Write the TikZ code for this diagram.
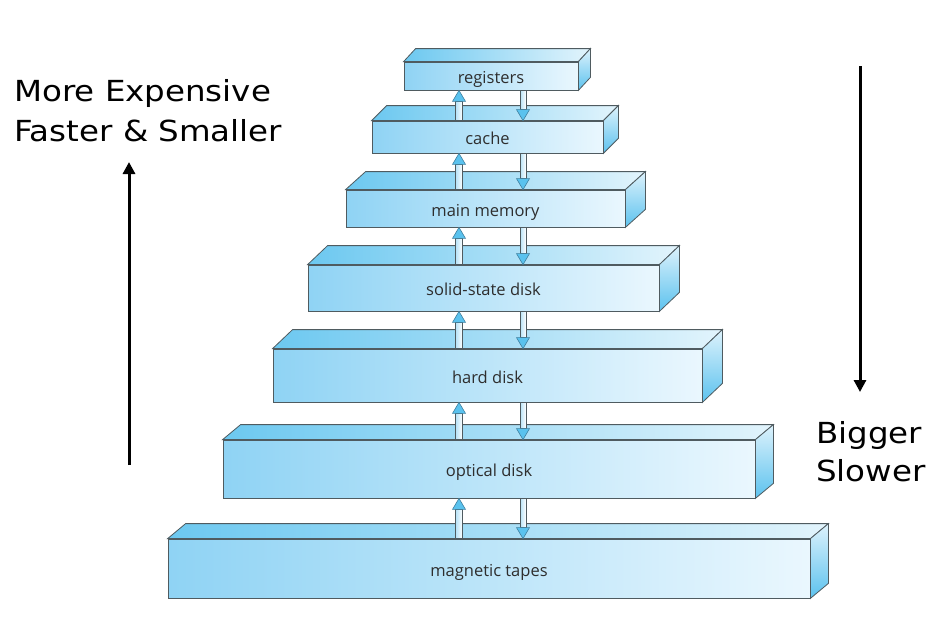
\documentclass[tikz,border=0pt]{standalone}
\usepackage{fontspec}
\setmainfont{Open Sans}
\newfontfamily\handfont[FakeStretch=1.12]{DejaVu Sans}
\usetikzlibrary{arrows.meta}
\definecolor{frontL}{HTML}{8FD3F4}
\definecolor{frontR}{HTML}{EAF7FE}
\definecolor{topL}{HTML}{6CC8F0}
\definecolor{topR}{HTML}{E2F4FC}
\definecolor{sideT}{HTML}{DDF2FC}
\definecolor{sideB}{HTML}{5CC2EE}
\definecolor{edge}{HTML}{4F5B60}
\definecolor{headC}{HTML}{5AC2EE}
\definecolor{headE}{HTML}{3F7F9E}
\definecolor{shaftL}{HTML}{B5E2F7}
\tikzset{
  front/.style={draw=edge, line width=0.8pt, left color=frontL, right color=frontR,
    inner sep=0pt, font=\fontsize{16.5}{18}\selectfont, text=black!82,
    text depth=0pt, text height=15pt},
  topface/.style={draw=edge, line width=0.8pt, left color=topL, right color=topR},
  sideface/.style={draw=edge, line width=0.8pt, shading=axis, shading angle=30,
    top color=sideT, bottom color=sideB},
  shaft/.style={draw=edge, line width=0.6pt, left color=shaftL, right color=white},
  head/.style={draw=headE, line width=0.6pt, fill=headC},
  bigarrow/.style={line width=3pt, -{Triangle[length=12pt,width=12pt]}},
  hand/.style={font=\handfont\fontsize{29}{32}\selectfont, anchor=base west, inner sep=0pt}
}
% name, x1, x2, y1, y2, dx, dy, label
\newcommand\slab[8]{%
  \node[front, minimum width={(#3-#2)*1pt}, minimum height={(#5-#4)*1pt}] (#1) at ({(#2+#3)/2},{(#4+#5)/2}) {#8};
  \path[topface] (#1.north west) -- ++(#6,-#7) -- ([xshift=#6pt,yshift=#7pt]#1.north east) -- (#1.north east) -- cycle;
  \path[sideface] (#1.north east) -- ++(#6,-#7) -- ([xshift=#6pt,yshift=#7pt]#1.south east) -- (#1.south east) -- cycle;
}
% up arrow: from lower box #1 to upper box #2
\newcommand\uparr[2]{%
  \path[shaft] ([xshift=-3.5pt]ux |- #1.north) rectangle ([xshift=3.5pt,yshift=-11pt]ux |- #2.south);
  \path[head] (ux |- #2.south) -- ([xshift=-6.5pt,yshift=-11pt]ux |- #2.south) -- ([xshift=6.5pt,yshift=-11pt]ux |- #2.south) -- cycle;
}
% down arrow: from upper box #1 to lower box #2
\newcommand\downarr[2]{%
  \path[shaft] ([xshift=-3pt]dnx |- #1.south) rectangle ([xshift=3pt,yshift=11pt]dnx |- #2.north);
  \path[head] (dnx |- #2.north) -- ([xshift=-6.5pt,yshift=11pt]dnx |- #2.north) -- ([xshift=6.5pt,yshift=11pt]dnx |- #2.north) -- cycle;
}
\begin{document}
\begin{tikzpicture}[x=1pt,y=-1pt]
\useasboundingbox (0,0) rectangle (946,633);
\fill[white] (0,0) rectangle (946,633);
\coordinate (ux) at (459,0);
\coordinate (dnx) at (523,0);

\slab{reg}{404}{578}{62}{90}{12}{13}{registers}
\slab{cache}{372}{603}{121}{153}{15}{15}{cache}
\slab{mm}{346}{625}{190}{227}{20}{18}{main memory}
\slab{ssd}{308}{659}{265}{311}{20}{19}{solid-state disk}
\slab{hd}{273}{702}{349}{402}{20}{19}{hard disk}
\slab{opt}{223}{755}{440}{498}{18}{15}{optical disk}
\slab{mag}{168}{810}{539}{598}{18}{15}{magnetic tapes}

\uparr{cache}{reg}
\downarr{reg}{cache}
\uparr{mm}{cache}
\downarr{cache}{mm}
\uparr{ssd}{mm}
\downarr{mm}{ssd}
\uparr{hd}{ssd}
\downarr{ssd}{hd}
\uparr{opt}{hd}
\downarr{hd}{opt}
\uparr{mag}{opt}
\downarr{opt}{mag}

\coordinate (la1) at (129,465);
\coordinate (la2) at (129,162);
\draw[bigarrow] (la1) -- (la2);
\coordinate (ra1) at (860,66);
\coordinate (ra2) at (860,392);
\draw[bigarrow] (ra1) -- (ra2);

\node[hand] (t1) at (14,101.5) {More Expensive};
\node[hand] (t2) at (14,141.5) {Faster \& Smaller};
\node[hand] (t3) at (816,443) {Bigger};
\node[hand] (t4) at (816,481.5) {Slower};
\end{tikzpicture}
\end{document}
